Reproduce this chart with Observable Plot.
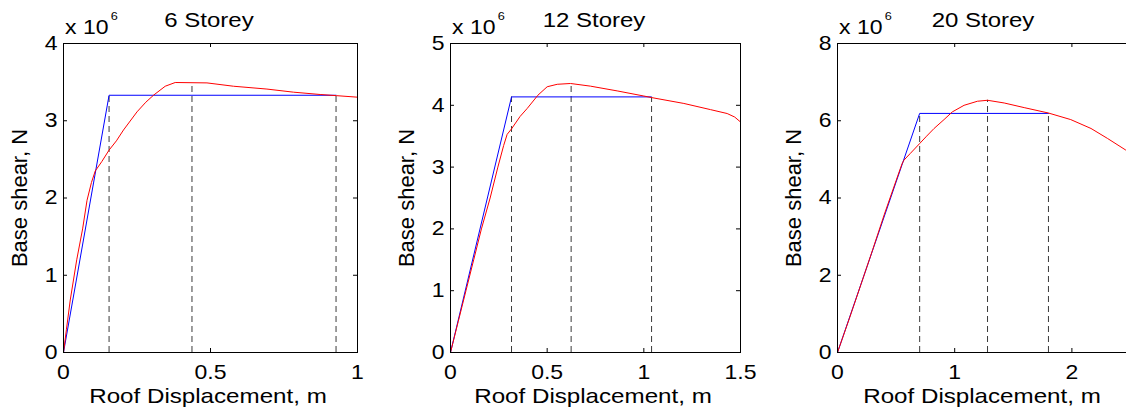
<!DOCTYPE html>
<html>
<head>
<meta charset="utf-8">
<script src="https://cdn.jsdelivr.net/npm/d3@7"></script>
<script src="https://cdn.jsdelivr.net/npm/@observablehq/plot@0.6"></script>
<style>
  html, body { margin: 0; padding: 0; background: #fff; overflow: hidden; }
  #wrap { position: relative; width: 1126px; height: 413px; overflow: hidden; background: #fff; }
  .panel { position: absolute; top: 0; }
  .panel svg { max-width: none !important; display: block; }
  .txt { position: absolute; font-family: "Liberation Sans", Arial, Helvetica, sans-serif; color: #000; white-space: nowrap; line-height: 1; }
</style>
</head>
<body>
<div id="wrap"></div>
<script>
// ---- Data (base shear in units of 10^6 N, roof displacement in m) ----
const panelTitles = ["6 Storey", "12 Storey", "20 Storey"];
const xLabel = "Roof Displacement, m";
const yLabel = "Base shear, N";
const yExponent = "6";

const xDomainMax = [1, 1.5, 2.5];
const yDomainMax = [4, 5, 8];
const xTicks6 = [0, 0.5, 1];
const xTicks12 = [0, 0.5, 1, 1.5];
const xTicks20 = [0, 1, 2];
const yTicks6 = [0, 1, 2, 3, 4];
const yTicks12 = [0, 1, 2, 3, 4, 5];
const yTicks20 = [0, 2, 4, 6, 8];

// Pushover (capacity) curves, red
const capacity6 = [[0,0],[0.01,0.3],[0.023,0.68],[0.045,1.2],[0.065,1.6],[0.08,1.97],[0.095,2.2],[0.108,2.35],[0.13,2.47],[0.155,2.62],[0.18,2.74],[0.204,2.88],[0.25,3.115],[0.28,3.24],[0.306,3.33],[0.346,3.447],[0.38,3.495],[0.488,3.49],[0.578,3.447],[0.692,3.41],[0.782,3.37],[0.873,3.34],[0.928,3.325],[1.0,3.305]];
const capacity12 = [[0,0],[0.04,0.5],[0.08,1.0],[0.12,1.5],[0.16,2.0],[0.205,2.5],[0.245,3.0],[0.275,3.35],[0.293,3.53],[0.316,3.62],[0.36,3.82],[0.397,3.95],[0.452,4.163],[0.5,4.30],[0.552,4.34],[0.621,4.353],[0.724,4.31],[0.862,4.233],[1.0,4.15],[1.038,4.126],[1.207,4.03],[1.345,3.93],[1.431,3.867],[1.47,3.81],[1.5,3.73]];
const capacity20 = [[0,0],[0.1,0.87],[0.2,1.76],[0.3,2.66],[0.4,3.58],[0.5,4.45],[0.55,4.88],[0.567,4.98],[0.62,5.15],[0.701,5.41],[0.76,5.6],[0.824,5.80],[0.909,6.03],[0.98,6.23],[1.08,6.40],[1.194,6.505],[1.28,6.53],[1.422,6.46],[1.593,6.34],[1.80,6.20],[1.99,6.03],[2.163,5.80],[2.305,5.54],[2.46,5.24],[2.5,5.15]];

// Bilinear idealisations, blue
const bilinear6 = [[0,0],[0.155,3.33],[0.927,3.33]];
const bilinear12 = [[0,0],[0.3156,4.136],[1.038,4.136]];
const bilinear20 = [[0,0],[0.701,6.19],[1.80,6.19]];

// Dashed reference lines: displacement and height
const dashX6 = [0.155, 0.437, 0.927];
const dashTop6 = [3.33, 3.495, 3.33];
const dashX12 = [0.3156, 0.624, 1.04];
const dashTop12 = [4.136, 4.353, 4.13];
const dashX20 = [0.701, 1.28, 1.80];
const dashTop20 = [6.19, 6.53, 6.19];

// ---- Layout (styles only) ----
const layouts = [
  {left: 0,   width: 380, mL: 63, mR: 23},
  {left: 380, width: 380, mL: 70, mR: 20},
  {left: 760, width: 400, mL: 77, mR: 30}
];
const MT = 43, MB = 61, H = 413;
const SX = 1.15;
const fontFam = '"Liberation Sans", Arial, Helvetica, sans-serif';
const fmt = d => `${d}`;

const panels = [
  {cap: capacity6, bil: bilinear6, dx: dashX6, dt: dashTop6, xt: xTicks6, yt: yTicks6},
  {cap: capacity12, bil: bilinear12, dx: dashX12, dt: dashTop12, xt: xTicks12, yt: yTicks12},
  {cap: capacity20, bil: bilinear20, dx: dashX20, dt: dashTop20, xt: xTicks20, yt: yTicks20}
];

const wrap = document.getElementById("wrap");

panels.forEach((p, i) => {
  const L = layouts[i];
  const fw = L.width - L.mL - L.mR;
  const fh = H - MT - MB;
  const dashes = p.dx.map((x, j) => ({x, top: p.dt[j]}));
  const svg = Plot.plot({
    width: L.width,
    height: H,
    marginLeft: L.mL,
    marginRight: L.mR,
    marginTop: MT,
    marginBottom: MB,
    x: {domain: [0, xDomainMax[i]]},
    y: {domain: [0, yDomainMax[i]]},
    style: {fontFamily: fontFam, fontSize: "20px", background: "transparent", color: "#000", maxWidth: "none"},
    marks: [
      Plot.ruleX(dashes, {x: "x", y1: 0, y2: "top", stroke: "#3a3a3a", strokeWidth: 1, strokeDasharray: "6,4"}),
      Plot.line(p.bil, {x: d => d[0], y: d => d[1], stroke: "#0000ff", strokeWidth: 1}),
      Plot.line(p.cap, {x: d => d[0], y: d => d[1], stroke: "#ff0000", strokeWidth: 1}),
      Plot.ruleX(p.xt, {insetTop: fh - 4, stroke: "#000"}),
      Plot.ruleX(p.xt, {insetBottom: fh - 4, stroke: "#000"}),
      Plot.ruleY(p.yt, {insetRight: fw - 4, stroke: "#000"}),
      Plot.ruleY(p.yt, {insetLeft: fw - 4, stroke: "#000"}),
      Plot.axisX(p.xt, {tickSize: 0, tickPadding: 12, label: null, fontSize: 20, tickFormat: fmt}),
      Plot.axisY(p.yt, {tickSize: 0, tickPadding: 6, label: null, fontSize: 20, tickFormat: fmt}),
      Plot.frame({stroke: "#000", strokeWidth: 1})
    ]
  });
  svg.style.maxWidth = "none";
  // widen horizontal tick labels to match the reference glyph proportions
  svg.querySelectorAll('g[aria-label$="tick label"] text').forEach(t => {
    const tr = t.getAttribute("transform");
    if (tr) t.setAttribute("transform", tr + ` scale(${SX},1)`);
    else {
      const x = +(t.getAttribute("x") || 0);
      t.setAttribute("x", x / SX);
      t.setAttribute("transform", `scale(${SX},1)`);
    }
  });
  const holder = document.createElement("div");
  holder.className = "panel";
  holder.style.left = L.left + "px";
  holder.style.width = L.width + "px";
  holder.appendChild(svg);
  wrap.appendChild(holder);

  const frameLeft = L.left + L.mL;
  const frameCenter = frameLeft + fw / 2;

  // Title
  const t = document.createElement("div");
  t.className = "txt";
  t.textContent = panelTitles[i];
  t.style.fontSize = "20px";
  t.style.left = (frameCenter - 1) + "px";
  t.style.top = "9.8px";
  t.style.transform = `translateX(-50%) scaleX(1.2)`;
  wrap.appendChild(t);

  // Exponent "x 10^6"
  const e = document.createElement("div");
  e.className = "txt";
  e.innerHTML = `x 10<span style="font-size:11px;position:relative;top:-14px;margin-left:2px">${yExponent}</span>`;
  e.style.fontSize = "20px";
  e.style.left = (frameLeft + 1.5) + "px";
  e.style.top = "17.4px";
  e.style.transformOrigin = "left top";
  e.style.transform = `scaleX(${SX})`;
  wrap.appendChild(e);

  // X label
  const xl = document.createElement("div");
  xl.className = "txt";
  xl.textContent = xLabel;
  xl.style.fontSize = "21px";
  xl.style.left = (frameCenter - 2) + "px";
  xl.style.top = "385.2px";
  xl.style.transform = `translateX(-50%) scaleX(${SX})`;
  wrap.appendChild(xl);

  // Y label (rotated)
  const yl = document.createElement("div");
  yl.className = "txt";
  yl.textContent = yLabel;
  yl.style.fontSize = "22px";
  yl.style.left = (frameLeft - 42.8) + "px";
  yl.style.top = "198px";
  yl.style.transform = `translate(-50%,-50%) rotate(-90deg)`;
  wrap.appendChild(yl);
});
</script>
</body>
</html>
